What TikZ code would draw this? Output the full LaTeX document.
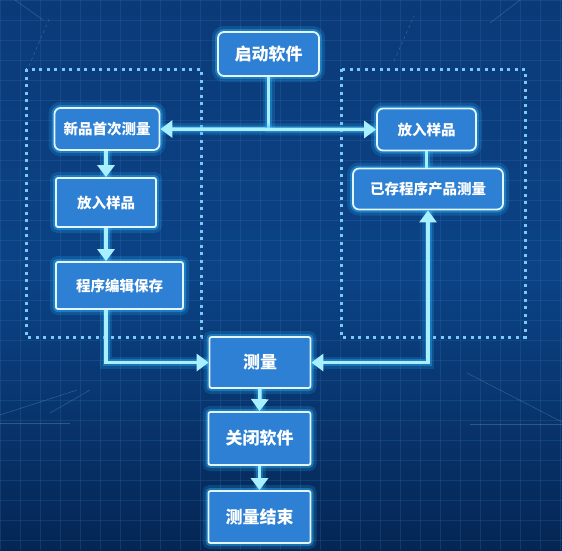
\documentclass[tikz,border=0pt]{standalone}
\usepackage{fontspec}
\newfontfamily\cjk{Noto Sans CJK SC}
\usepackage{tikz}
\usetikzlibrary{arrows.meta}
\definecolor{bgtop}{HTML}{0B3A78}
\definecolor{bgmid}{HTML}{0B4386}
\definecolor{bgbot}{HTML}{052654}
\definecolor{boxfill}{HTML}{2D80D3}
\definecolor{rim}{HTML}{E2F6FF}
\definecolor{glow}{HTML}{2FB8FF}
\definecolor{wire}{HTML}{A8F0FF}
\definecolor{dotc}{HTML}{7CC8F5}
\definecolor{gridc}{HTML}{3572B8}

\begin{document}
\begin{tikzpicture}[x=1pt,y=-1pt,
  stepbox/.style={draw=rim, line width=1.8pt, fill=boxfill, rounded corners=2pt,
    text=white, inner sep=0pt, font=\cjk\bfseries\fontsize{17}{20}\selectfont,
    preaction={draw=glow, line width=12pt, opacity=.18},
    preaction={draw=glow, line width=6pt, opacity=.4}},
  softbox/.style={stepbox, rounded corners=6pt},
  smalltext/.style={font=\cjk\bfseries\fontsize{14.5}{17}\selectfont},
  tip/.style={-{Triangle[width=17pt,length=12pt]}},
  flow/.style={draw=wire, line width=3.5pt, tip,
    preaction={draw=glow, line width=12pt, opacity=.18, -},
    preaction={draw=glow, line width=7pt, opacity=.35, -}},
  twoway/.style={flow, {Triangle[width=17pt,length=12pt]}-{Triangle[width=17pt,length=12pt]}},
  wireline/.style={flow, -},
  dotframe/.style={draw=dotc, line width=3pt, dash pattern=on 3pt off 4.5pt},
  gridline/.style={draw=gridc, line width=.4pt, opacity=.25},
  faint/.style={draw=gridc!70!white, line width=.6pt, opacity=.35}]

\useasboundingbox (0,0) rectangle (562,550);
\shade[top color=bgtop, bottom color=bgmid] (0,0) rectangle (562,275);
\shade[top color=bgmid, bottom color=bgbot] (0,275) rectangle (562,550);
\foreach \x in {0,20,...,560} \draw[gridline] (\x,0) -- (\x,550);
\foreach \y in {0,20,...,540} \draw[gridline] (0,\y) -- (562,\y);

\draw[faint, dashed] (29,66) -- (50,17);
\draw[faint, dashed] (394,61) -- (414,16);
\draw[faint] (15,0) -- (43,20);
\draw[faint] (490,23) -- (520,0);
\draw[faint] (0,415) -- (77,390);
\draw[faint] (50,413) -- (90,390);
\draw[faint] (0,423) -- (70,423);
\draw[faint] (467,373) -- (562,422);
\draw[faint] (470,424) -- (562,424);

\draw[dotframe] (26,69) rectangle (201,337);
\draw[dotframe] (341,69) rectangle (525,337);

\node[softbox, minimum width=101pt, minimum height=44pt] (start) at (268.5,54) {启动软件};
\node[softbox, smalltext, minimum width=105pt, minimum height=42pt] (newfirst) at (107,129) {新品首次测量};
\node[stepbox, smalltext, minimum width=100pt, minimum height=49pt] (putleft) at (106,202.5) {放入样品};
\node[stepbox, smalltext, minimum width=127pt, minimum height=47pt] (progsave) at (119.5,285.5) {程序编辑保存};
\node[softbox, smalltext, minimum width=99pt, minimum height=42pt] (putright) at (426.5,129.5) {放入样品};
\node[softbox, smalltext, minimum width=150pt, minimum height=41pt] (stored) at (428,189) {已存程序产品测量};
\node[stepbox, minimum width=101pt, minimum height=51pt] (measure) at (260,362.5) {测量};
\node[stepbox, minimum width=102pt, minimum height=53pt] (close) at (259.5,438.5) {关闭软件};
\node[stepbox, minimum width=102pt, minimum height=52pt] (finish) at (259.5,517) {测量结束};

\draw[wireline] (start.south) -- (start.south |- newfirst.east);
\draw[twoway] (newfirst.east) -- (putright.west);
\draw[flow] (newfirst.south -| putleft) -- (putleft.north);
\draw[flow] (putleft.south) -- (putleft |- progsave.north);
\draw[flow] (putleft |- progsave.south) -- (putleft |- measure.west) -- (measure.west);
\draw[wireline] (putright.south) -- (putright.south |- stored.north);
\draw[twoway] (measure.east) -- (stored |- measure.east) -- (stored.south);
\draw[flow] (measure.south) -- (close.north);
\draw[flow] (close.south) -- (finish.north);
\end{tikzpicture}
\end{document}
